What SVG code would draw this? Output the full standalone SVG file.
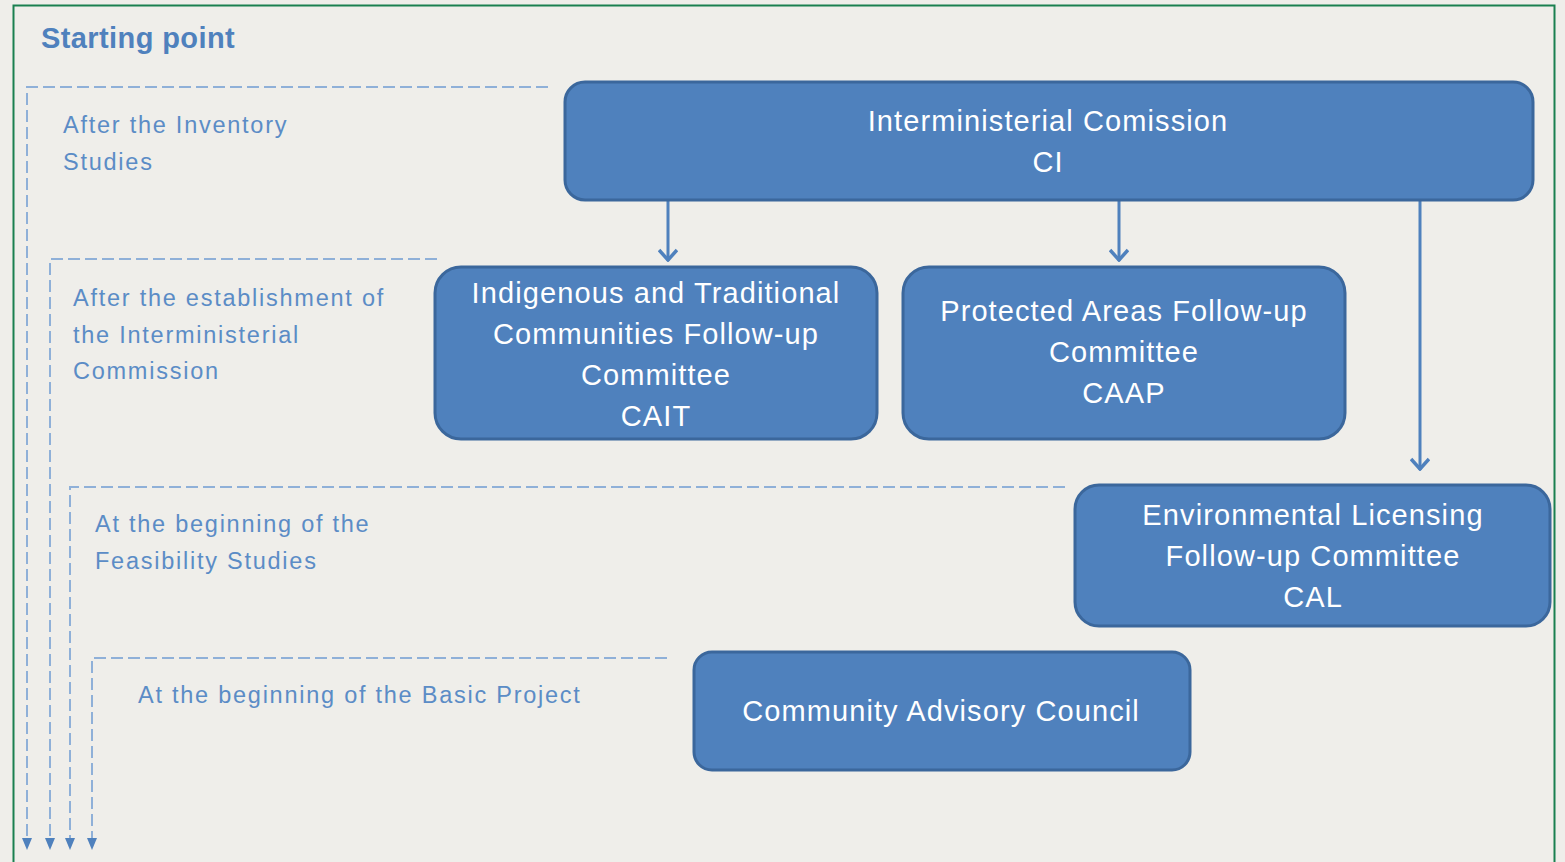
<svg xmlns="http://www.w3.org/2000/svg" width="1565" height="862" viewBox="0 0 1565 862">
<defs>
<style>
.box{fill:#4f81bd;stroke:#3b679c;stroke-width:3}
.bt{font-family:"Liberation Sans",Arial,sans-serif;font-size:29px;letter-spacing:1.1px;fill:#ffffff;text-anchor:middle}
.lb{font-family:"Liberation Sans",Arial,sans-serif;font-size:23.5px;letter-spacing:1.75px;fill:#5b8cc6}
.ttl{font-family:"Liberation Sans",Arial,sans-serif;font-size:29px;letter-spacing:0.4px;font-weight:bold;fill:#4f81bd}
.dash{fill:none;stroke:#8fb0d8;stroke-width:2;stroke-dasharray:12 5}
.arr{fill:none;stroke:#4f81bd;stroke-width:3}
</style>
<marker id="open" viewBox="0 0 20 14" refX="10" refY="13" markerWidth="20" markerHeight="14" orient="0" markerUnits="userSpaceOnUse">
<path d="M1,2 L10,12 L19,2" fill="none" stroke="#4f81bd" stroke-width="3.5"/>
</marker>
</defs>
<rect x="0" y="0" width="1565" height="862" fill="#efeeea"/>
<rect x="13.5" y="5.5" width="1541" height="870" fill="none" stroke="#1a8050" stroke-width="2"/>
<text class="ttl" x="41" y="48">Starting point</text>

<g id="timeline">
<path class="dash" d="M548,87 H27 V840"/>
<path class="dash" d="M437,259 H50 V840"/>
<path class="dash" d="M1065,487 H70 V840"/>
<path class="dash" d="M667,658 H92 V840"/>
<path d="M22,838 L32,838 L27,850 Z" fill="#4f81bd"/>
<path d="M45,838 L55,838 L50,850 Z" fill="#4f81bd"/>
<path d="M65,838 L75,838 L70,850 Z" fill="#4f81bd"/>
<path d="M87,838 L97,838 L92,850 Z" fill="#4f81bd"/>
<text class="lb" x="63" y="133">After the Inventory</text>
<text class="lb" x="63" y="170">Studies</text>
<text class="lb" x="73" y="306">After the establishment of</text>
<text class="lb" x="73" y="343">the Interministerial</text>
<text class="lb" x="73" y="379">Commission</text>
<text class="lb" x="95" y="532">At the beginning of the</text>
<text class="lb" x="95" y="569">Feasibility Studies</text>
<text class="lb" x="138" y="703">At the beginning of the Basic Project</text>
</g>

<g id="connectors">
<path class="arr" d="M668,201 V261" marker-end="url(#open)"/>
<path class="arr" d="M1119,201 V261" marker-end="url(#open)"/>
<path class="arr" d="M1420,201 V470" marker-end="url(#open)"/>
</g>

<g id="ci">
<rect class="box" x="565" y="82" width="968" height="118" rx="20"/>
<text class="bt" x="1048" y="131">Interministerial Comission</text>
<text class="bt" x="1048" y="172">CI</text>
</g>
<g id="cait">
<rect class="box" x="435" y="267" width="442" height="172" rx="26"/>
<text class="bt" x="656" y="303">Indigenous and Traditional</text>
<text class="bt" x="656" y="344">Communities Follow-up</text>
<text class="bt" x="656" y="385">Committee</text>
<text class="bt" x="656" y="426">CAIT</text>
</g>
<g id="caap">
<rect class="box" x="903" y="267" width="442" height="172" rx="26"/>
<text class="bt" x="1124" y="321">Protected Areas Follow-up</text>
<text class="bt" x="1124" y="362">Committee</text>
<text class="bt" x="1124" y="403">CAAP</text>
</g>
<g id="cal">
<rect class="box" x="1075" y="485" width="475" height="141" rx="24"/>
<text class="bt" x="1313" y="525">Environmental Licensing</text>
<text class="bt" x="1313" y="566">Follow-up Committee</text>
<text class="bt" x="1313" y="607">CAL</text>
</g>
<g id="cac">
<rect class="box" x="694" y="652" width="496" height="118" rx="18"/>
<text class="bt" x="941" y="721">Community Advisory Council</text>
</g>
</svg>
